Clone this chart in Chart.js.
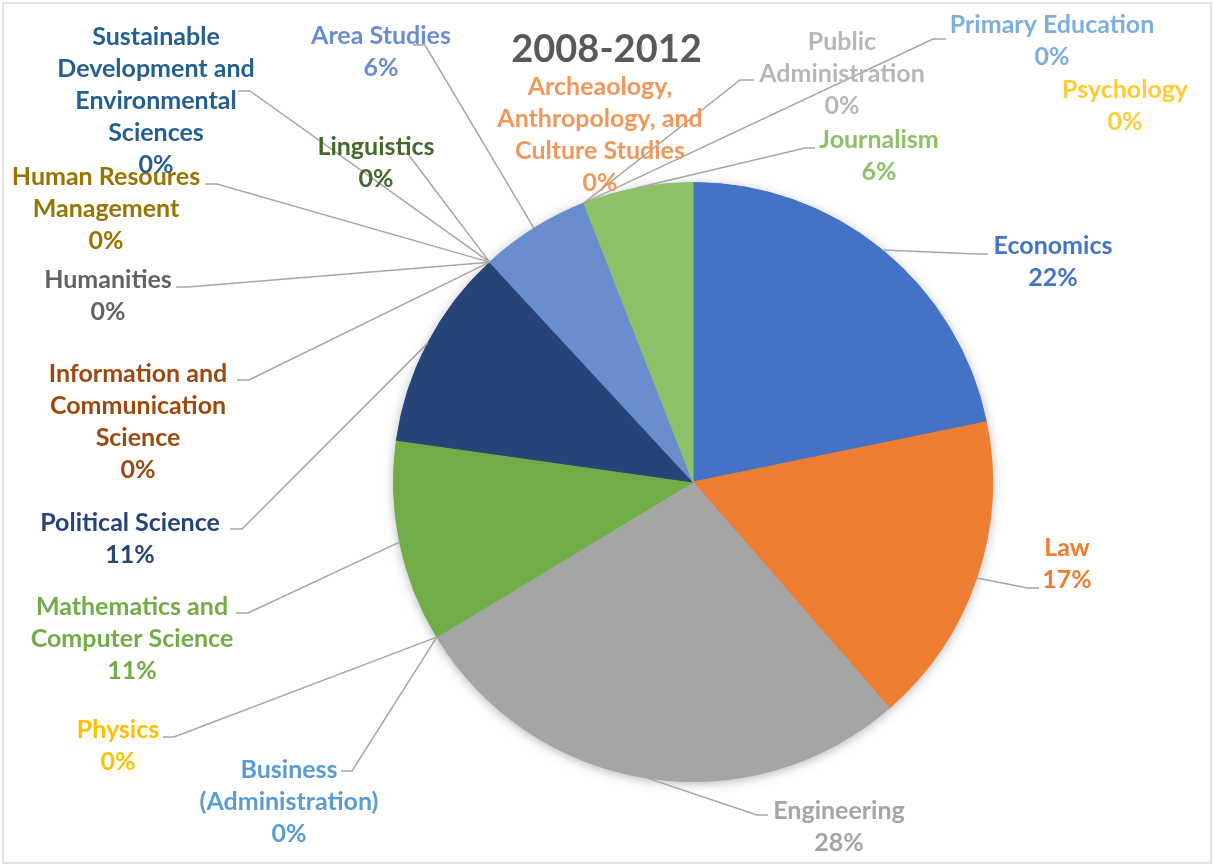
<!DOCTYPE html>
<html lang="en">
<head>
<meta charset="utf-8">
<title>2008-2012</title>
<script src="https://cdn.jsdelivr.net/npm/chart.js@4.4.1/dist/chart.umd.min.js"></script>
<style>
  html, body { margin: 0; padding: 0; background: #ffffff; }
  canvas { display: block; }
</style>
</head>
<body>
<canvas id="fieldsChart" width="1213" height="865"></canvas>
<script>
const TITLE = '2008-2012';

// Study fields, clockwise from 12 o'clock (line breaks as the labels wrap)
const FIELDS = [
  'Economics',
  'Law',
  'Engineering',
  'Physics',
  'Business\n(Administration)',
  'Mathematics and\nComputer Science',
  'Political Science',
  'Information and\nCommunication\nScience',
  'Humanities',
  'Human Resoures\nManagement',
  'Sustainable\nDevelopment and\nEnvironmental\nSciences',
  'Linguistics',
  'Area Studies',
  'Archeaology,\nAnthropology, and\nCulture Studies',
  'Public\nAdministration',
  'Psychology',
  'Primary Education',
  'Journalism',
];

// Share per field, percent
const SHARES = [22, 17, 28, 0, 0, 11, 11, 0, 0, 0, 0, 0, 6, 0, 0, 0, 0, 6];

const COLORS = [
  '#4472C4', '#ED7D31', '#A5A5A5', '#FFC000', '#5B9BD5', '#70AD47',
  '#264478', '#9E480E', '#636363', '#997300', '#255E91', '#43682B',
  '#698ED0', '#F1975A', '#B7B7B7', '#FFCD33', '#7CAFDD', '#8CC168',
];

// Label block position (first line centre), offset from the pie centre
const LABEL_POS = [
  [360, -236], [374, 66], [146, 329], [-575, 248], [-404, 288], [-561, 125],
  [-563, 41], [-555, -108], [-585, -202], [-587, -305], [-537, -445], [-317, -335],
  [-312, -446], [-93, -395], [149, -440], [432, -392], [359, -457], [186, -342],
];

// Leader line: elbow x, elbow y, end of the short horizontal stub (offsets from centre)
const LEADERS = [
  [284, -228, 295], [335, 106, 346], [64, 333, 75], [-519, 255, -530], [-341, 289, -352], [-445, 131, -457],
  [-451, 47, -463], [-444, -102, -456], [-505, -195, -517], [-476, -298, -488], [-443, -391, -455], [-285, -328, -296],
  [-268, -437, -280], null, [47, -402, 61], null, [240, -443, 253], [112, -334, 122],
];

const LABEL_FONT = 'bold 25px Lato, "Open Sans", sans-serif';
const TITLE_FONT = 'bold 38px Lato, "Open Sans", sans-serif';
const LINE_HEIGHT = 32;
const TITLE_Y = 50;
const LEADER_COLOR = '#A6A6A6';

const chartFrame = {
  id: 'chartFrame',
  beforeDraw(chart) {
    const { ctx } = chart;
    ctx.save();
    ctx.fillStyle = '#ffffff';
    ctx.fillRect(0, 0, chart.width, chart.height);
    ctx.strokeStyle = '#D9D9D9';
    ctx.lineWidth = 1.5;
    ctx.strokeRect(3, 3, chart.width - 5, chart.height - 5);
    ctx.restore();
  },
};

// soft drop shadow under the whole pie
const pieShadow = {
  id: 'pieShadow',
  beforeDatasetsDraw(chart) {
    const arc = chart.getDatasetMeta(0).data[0];
    const { ctx } = chart;
    ctx.save();
    ctx.shadowColor = 'rgba(0, 0, 0, 0.35)';
    ctx.shadowBlur = 12;
    ctx.shadowOffsetY = 2;
    ctx.fillStyle = '#ffffff';
    ctx.beginPath();
    ctx.arc(arc.x, arc.y, arc.outerRadius - 1, 0, Math.PI * 2);
    ctx.fill();
    ctx.restore();
  },
};

const leaderLabels = {
  id: 'leaderLabels',
  afterDatasetsDraw(chart) {
    const { ctx } = chart;
    const arcs = chart.getDatasetMeta(0).data;

    ctx.save();
    ctx.strokeStyle = LEADER_COLOR;
    ctx.lineWidth = 1.5;
    arcs.forEach((arc, i) => {
      const leader = LEADERS[i];
      if (!leader) return;
      const mid = (arc.startAngle + arc.endAngle) / 2;
      const r = arc.outerRadius;
      ctx.beginPath();
      ctx.moveTo(arc.x + Math.cos(mid) * r, arc.y + Math.sin(mid) * r);
      ctx.lineTo(arc.x + leader[0], arc.y + leader[1]);
      ctx.lineTo(arc.x + leader[2], arc.y + leader[1]);
      ctx.stroke();
    });

    ctx.font = LABEL_FONT;
    ctx.textAlign = 'center';
    ctx.textBaseline = 'middle';
    arcs.forEach((arc, i) => {
      const lines = [...FIELDS[i].split('\n'), `${SHARES[i]}%`];
      const [dx, dy] = LABEL_POS[i];
      ctx.fillStyle = COLORS[i];
      lines.forEach((line, k) => {
        ctx.fillText(line, arc.x + dx, arc.y + dy + k * LINE_HEIGHT);
      });
    });
    ctx.restore();
  },
};

const chartTitle = {
  id: 'chartTitle',
  afterDraw(chart) {
    const { ctx } = chart;
    ctx.save();
    ctx.font = TITLE_FONT;
    ctx.fillStyle = '#595959';
    ctx.textAlign = 'center';
    ctx.textBaseline = 'middle';
    ctx.fillText(TITLE, chart.width / 2, TITLE_Y);
    ctx.restore();
  },
};

new Chart(document.getElementById('fieldsChart'), {
  type: 'pie',
  data: {
    labels: FIELDS.map((f) => f.replace(/\n/g, ' ')),
    datasets: [
      {
        data: SHARES,
        backgroundColor: COLORS,
        borderColor: COLORS,
        borderWidth: (c) => (c.raw > 0 ? 1 : 0),
      },
    ],
  },
  options: {
    responsive: false,
    animation: false,
    layout: { padding: { left: 393, right: 220, top: 182, bottom: 83 } },
    plugins: {
      legend: { display: false },
      tooltip: { enabled: false },
    },
  },
  plugins: [chartFrame, pieShadow, leaderLabels, chartTitle],
});
</script>
</body>
</html>
